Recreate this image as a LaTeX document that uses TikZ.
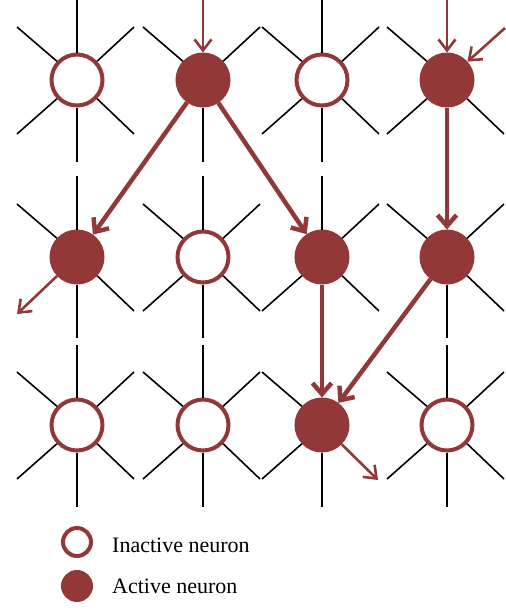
\documentclass[tikz,border=0pt]{standalone}
\usepackage{fontspec}
\setmainfont{Liberation Serif}
\usetikzlibrary{arrows.meta,calc}
\definecolor{nred}{RGB}{146,56,56}
\tikzset{
  neuron/.style={circle,draw=nred,line width=4pt,minimum size=51pt,inner sep=0pt},
  inactive/.style={neuron,fill=white},
  active/.style={neuron,fill=nred},
  spoke/.style={line width=1.6pt,black},
  thinarrow/.style={nred,line width=2.6pt,-{Straight Barb[length=11pt,width=17pt]}},
  thickarrow/.style={nred,line width=4.5pt,-{Straight Barb[length=11pt,width=19pt]}},
  legendcircle/.style={circle,draw=nred,line width=4pt,minimum size=28pt,inner sep=0pt},
  legendtext/.style={anchor=base west,inner sep=0pt,font=\fontsize{22}{26}\selectfont}
}
\newcommand\myspokes[2]{%
  \foreach \a/\dx/\dy in {#2}{\draw[spoke] (#1.\a) -- ($(#1)+(\dx,\dy)$);}%
}
\begin{document}
\begin{tikzpicture}[x=1pt,y=-1pt]
\useasboundingbox (0,0) rectangle (506,614);
% neurons
\node[inactive] (n00) at (77,80) {};
\node[active]   (n01) at (203,80) {};
\node[inactive] (n02) at (322,80) {};
\node[active]   (n03) at (447,80) {};
\node[active]   (n10) at (77,257) {};
\node[inactive] (n11) at (203,257) {};
\node[active]   (n12) at (322,257) {};
\node[active]   (n13) at (447,257) {};
\node[inactive] (n20) at (77,425) {};
\node[inactive] (n21) at (203,425) {};
\node[active]   (n22) at (322,425) {};
\node[inactive] (n23) at (447,425) {};
% spokes: N, S, NE, NW, SE, SW
\myspokes{n00}{90/0/-80, 270/0/82, 43/57/-53, 137/-60/-53, -43/57/54, 223/-60/54}
\myspokes{n01}{270/0/82, 43/57/-53, 137/-60/-53}
\myspokes{n02}{90/0/-80, 270/0/82, 43/57/-53, 137/-60/-53, -43/57/54, 223/-60/54}
\myspokes{n03}{137/-60/-53, -43/57/54, 223/-60/54}
\myspokes{n10}{90/0/-81, 270/0/81, 137/-60/-53, -43/57/54}
\myspokes{n11}{90/0/-81, 270/0/81, 43/57/-53, 137/-60/-53, -43/57/54, 223/-60/54}
\myspokes{n12}{90/0/-81, 43/57/-53, -43/57/54, 223/-60/54}
\myspokes{n13}{270/0/81, 43/57/-53, 137/-60/-53, -43/57/54}
\myspokes{n20}{90/0/-80, 270/0/82, 43/57/-53, 137/-60/-53, -43/57/54, 223/-60/54}
\myspokes{n21}{90/0/-80, 270/0/82, 43/57/-53, 137/-60/-53, -43/57/54, 223/-60/54}
\myspokes{n22}{270/0/82, 137/-60/-53, 223/-60/54}
\myspokes{n23}{90/0/-80, 270/0/82, 43/57/-53, 137/-60/-53, -43/57/54, 223/-60/54}
% free arrow ends
\coordinate (in01) at (203,0);
\coordinate (in03a) at (447,0);
\coordinate (in03b) at (505,28);
\coordinate (out10) at (17,314);
\coordinate (out22) at (378,480);
% arrows
\draw[thinarrow] (in01) -- (n01);
\draw[thinarrow] (in03a) -- (n03);
\draw[thinarrow] (in03b) -- (n03);
\draw[thickarrow] (n01) -- (n10);
\draw[thickarrow] (n01) -- (n12);
\draw[thickarrow] (n03) -- (n13);
\draw[thickarrow] (n12) -- (n22);
\draw[thickarrow] (n13) -- (n22);
\draw[thinarrow] (n10) -- (out10);
\draw[thinarrow] (n22) -- (out22);
% legend
\node[legendcircle,fill=white] (li) at (77,542) {};
\node[legendcircle,fill=nred] (la) at (77,586) {};
\node[legendtext] (lti) at (112,552) {Inactive neuron};
\node[legendtext] (lta) at (112,593) {Active neuron};
\end{tikzpicture}
\end{document}
